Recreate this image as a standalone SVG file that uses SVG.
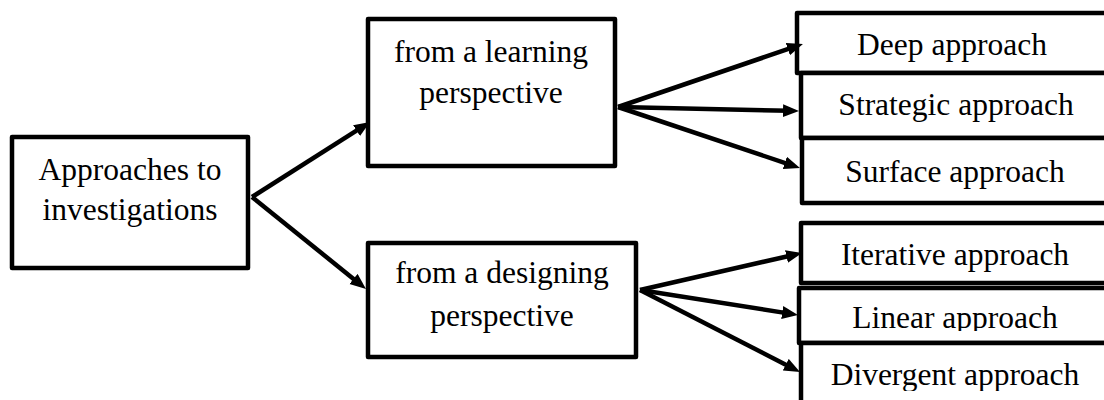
<svg xmlns="http://www.w3.org/2000/svg" width="1104" height="400" viewBox="0 0 1104 400">
  <style>
    .box { fill: #fff; stroke: #000; stroke-width: 4.5; stroke-linejoin: round; }
    .lbl { font-family: "Liberation Serif", "Times New Roman", serif; font-size: 31.5px; fill: #000; text-anchor: middle; }
    .link { stroke: #000; stroke-width: 4.5; fill: none; marker-end: url(#head); }
  </style>
  <defs>
    <marker id="head" markerUnits="userSpaceOnUse" markerWidth="17" markerHeight="14" refX="6" refY="6.5" orient="auto">
      <path d="M0,0 L16,6.5 L0,13 z" fill="#000"/>
    </marker>
    <clipPath id="clipLinear"><rect x="790" y="280" width="320" height="51"/></clipPath>
    <clipPath id="clipDivergent"><rect x="790" y="340" width="320" height="51"/></clipPath>
  </defs>
  <rect width="1104" height="400" fill="#fff"/>

  <g id="root">
    <rect class="box" x="12" y="137" width="236" height="131"/>
    <text class="lbl" x="130" y="180">Approaches to</text>
    <text class="lbl" x="130" y="220">investigations</text>
  </g>

  <g id="learning">
    <rect class="box" x="368" y="19" width="247" height="147"/>
    <text class="lbl" x="491" y="62">from a learning</text>
    <text class="lbl" x="491" y="103">perspective</text>
  </g>

  <g id="designing">
    <rect class="box" x="368" y="243" width="268" height="114"/>
    <text class="lbl" x="502" y="283">from a designing</text>
    <text class="lbl" x="502" y="326">perspective</text>
  </g>

  <g id="deep">
    <rect class="box" x="797" y="13" width="330" height="60"/>
    <text class="lbl" x="952" y="55">Deep approach</text>
  </g>

  <g id="strategic">
    <rect class="box" x="801" y="73" width="330" height="65"/>
    <text class="lbl" x="956" y="115">Strategic approach</text>
  </g>

  <g id="surface">
    <rect class="box" x="802" y="138" width="330" height="65"/>
    <text class="lbl" x="955" y="182">Surface approach</text>
  </g>

  <g id="iterative">
    <rect class="box" x="801" y="223" width="330" height="60"/>
    <text class="lbl" x="955" y="265">Iterative approach</text>
  </g>

  <g id="linear">
    <rect class="box" x="799" y="288" width="330" height="55"/>
    <text class="lbl" x="955" y="328" clip-path="url(#clipLinear)">Linear approach</text>
  </g>

  <g id="divergent">
    <rect class="box" x="801" y="343" width="330" height="80"/>
    <text class="lbl" x="955" y="385" clip-path="url(#clipDivergent)">Divergent approach</text>
  </g>

  <g id="connectors">
    <line class="link" x1="252" y1="197" x2="361.6" y2="127.4"/>
    <line class="link" x1="252" y1="197" x2="358.2" y2="282.7"/>
    <line class="link" x1="618" y1="107" x2="793.5" y2="47.2"/>
    <line class="link" x1="618" y1="107" x2="789" y2="110.8"/>
    <line class="link" x1="618" y1="107" x2="790.5" y2="164.8"/>
    <line class="link" x1="640" y1="290" x2="792.3" y2="255.2"/>
    <line class="link" x1="640" y1="290" x2="788.1" y2="313.4"/>
    <line class="link" x1="640" y1="290" x2="791.1" y2="367.4"/>
  </g>
</svg>
